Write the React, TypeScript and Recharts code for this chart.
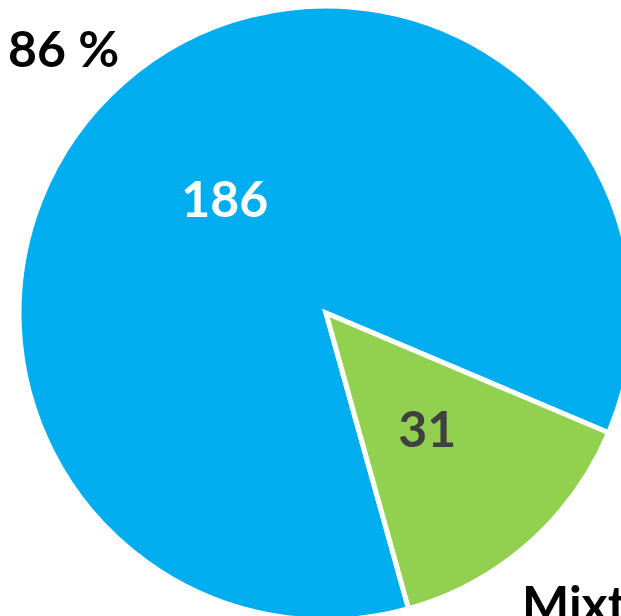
import React from "react";
import { PieChart, Pie, Cell } from "recharts";

const categories = ["Other", "Mixte"];
const values = [186, 31];
const colors = ["#00AEEF", "#92D050"];
const valueLabelColors = ["#FFFFFF", "#404040"];

const data = categories.map((name, i) => ({ name, value: values[i] }));
const total = values.reduce((a, b) => a + b, 0);
const pctLabel = `${Math.round((values[0] / total) * 100)} %`;

const FONT = "Lato, 'Open Sans', sans-serif";
const RAD = Math.PI / 180;

const renderLabel = (props: any) => {
  const { cx, cy, midAngle, outerRadius, index, value } = props;
  const r = outerRadius * 0.5;
  const x = cx + r * Math.cos(-midAngle * RAD);
  const y = cy + r * Math.sin(-midAngle * RAD);
  return (
    <g key={`lbl-${index}`}>
      <text
        x={x}
        y={y}
        fill={valueLabelColors[index]}
        textAnchor="middle"
        dominantBaseline="central"
        fontFamily={FONT}
        fontWeight="bold"
        fontSize={50}
      >
        {value}
      </text>
      {index === 0 && (
        <text
          x={cx - 318}
          y={cy - 246}
          fill="#000000"
          textAnchor="start"
          fontFamily={FONT}
          fontWeight="bold"
          fontSize={50}
        >
          {pctLabel}
        </text>
      )}
      {index === 1 && (
        <text
          x={cx + 196}
          y={cy + 309}
          fill="#000000"
          textAnchor="start"
          fontFamily={FONT}
          fontWeight="bold"
          fontSize={50}
        >
          {categories[1]}
        </text>
      )}
    </g>
  );
};

export default function App() {
  return (
    <div style={{ position: "absolute", left: 0, top: 0, width: 621, height: 616, background: "#fff", overflow: "hidden" }}>
      <PieChart width={621} height={616} margin={{ top: 0, right: 0, bottom: 0, left: 0 }}>
        <Pie
          data={data}
          dataKey="value"
          nameKey="name"
          cx={326}
          cy={313}
          outerRadius={307}
          startAngle={285.6}
          endAngle={-74.4}
          stroke="#FFFFFF"
          strokeWidth={5}
          label={renderLabel}
          labelLine={false}
          isAnimationActive={false}
        >
          {data.map((d, i) => (
            <Cell key={d.name} fill={colors[i]} />
          ))}
        </Pie>
      </PieChart>
    </div>
  );
}
